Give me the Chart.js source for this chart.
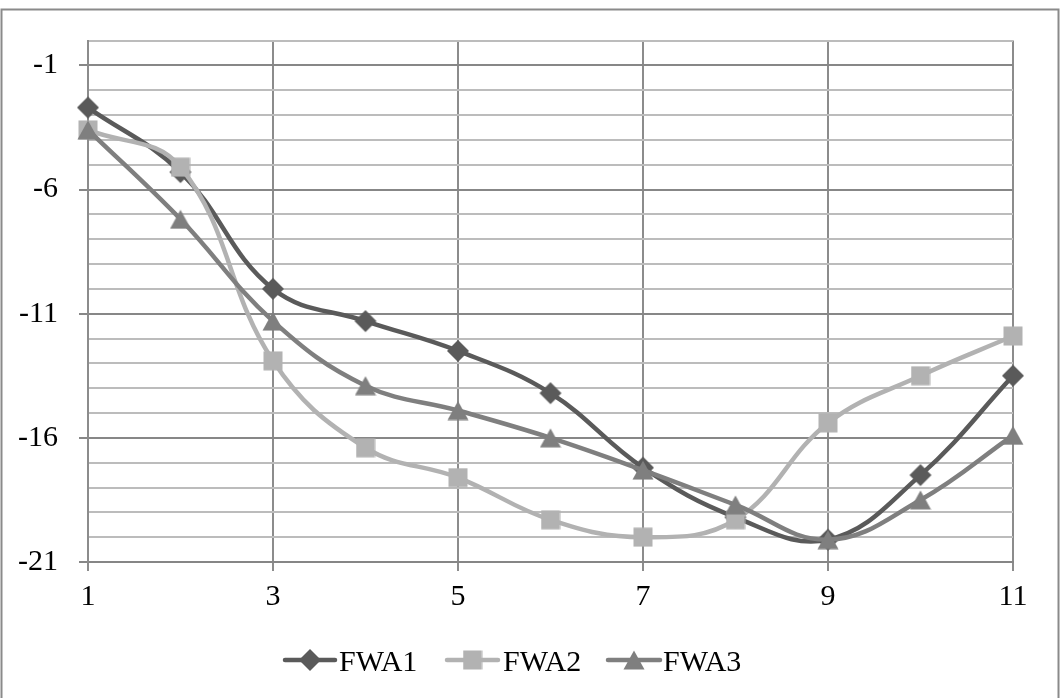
<!DOCTYPE html>
<html>
<head>
<meta charset="utf-8">
<title>FWA</title>
<script src="https://cdn.jsdelivr.net/npm/chart.js@4.4.1/dist/chart.umd.min.js"></script>
<style>
  html, body { margin: 0; padding: 0; background: #ffffff; }
  #wrap { width: 1062px; height: 698px; position: relative; }
  .fontwarm { position: absolute; left: -9999px; top: 0; font: 30px 'Liberation Serif'; }
</style>
</head>
<body>
<div id="wrap"><canvas id="chart" width="1062" height="698"></canvas></div>
<span class="fontwarm">FWA-0123456789</span>
<script>
// Sample positions along the x axis
const xValues = [1, 2, 3, 4, 5, 6, 7, 8, 9, 10, 11];

// Series values
const fwa1 = [-2.7, -5.3, -10.0, -11.3, -12.5, -14.2, -17.2, -19.2, -20.1, -17.5, -13.5];
const fwa2 = [-3.6, -5.1, -12.9, -16.4, -17.6, -19.3, -20.0, -19.3, -15.4, -13.5, -11.9];
const fwa3 = [-3.6, -7.2, -11.3, -13.9, -14.9, -16.0, -17.3, -18.7, -20.1, -18.5, -15.9];

const seriesNames = ['FWA1', 'FWA2', 'FWA3'];

// Axis ranges and labelled tick values
const yMin = -21, yMax = 0;
const yLabelled = [-21, -16, -11, -6, -1];
const xTicks = [1, 3, 5, 7, 9, 11];

const FONT = "'Liberation Serif', 'Times New Roman', Times, serif";
const colors = ['#5a5a5a', '#b2b2b2', '#7f7f7f'];

// Marker images (diamond, square, triangle) used both on the lines and in the legend
function makeMarker(shape, color) {
  const c = document.createElement('canvas');
  if (shape === 'diamond') { c.width = 24; c.height = 24; }
  else if (shape === 'square') { c.width = 20; c.height = 20; }
  else { c.width = 22; c.height = 20; }
  const g = c.getContext('2d');
  g.fillStyle = color;
  if (shape === 'diamond') {
    g.beginPath();
    g.moveTo(12, 1); g.lineTo(23, 12); g.lineTo(12, 23); g.lineTo(1, 12);
    g.closePath(); g.fill();
  } else if (shape === 'square') {
    g.fillRect(0.5, 0.5, 19, 19);
  } else {
    g.beginPath();
    g.moveTo(11, 0.5); g.lineTo(21.5, 19.5); g.lineTo(0.5, 19.5);
    g.closePath(); g.fill();
  }
  return c;
}
const markers = [
  makeMarker('diamond', colors[0]),
  makeMarker('square', colors[1]),
  makeMarker('triangle', colors[2])
];

function toPoints(values) {
  return values.map((v, i) => ({ x: xValues[i], y: v }));
}

const datasets = [fwa1, fwa2, fwa3].map((vals, i) => ({
  label: seriesNames[i],
  data: toPoints(vals),
  borderColor: colors[i],
  backgroundColor: colors[i],
  borderWidth: 4.5,
  tension: 0.4,
  pointStyle: markers[i],
  pointRadius: 10,
  pointHoverRadius: 10,
  pointBorderWidth: 0,
  clip: false,
  order: 3 - i
}));

// Outer frame of the chart
const framePlugin = {
  id: 'frame',
  beforeDraw(chart) {
    const ctx = chart.ctx;
    ctx.save();
    ctx.fillStyle = '#ffffff';
    ctx.fillRect(0, 0, chart.width, chart.height);
    ctx.strokeStyle = '#8a8a8a';
    ctx.lineWidth = 2;
    ctx.strokeRect(1.5, 9.5, 1057, 720);
    ctx.restore();
  }
};

// Legend drawn beneath the axis: line sample, marker, series name
const legendPlugin = {
  id: 'lineLegend',
  afterDraw(chart) {
    const ctx = chart.ctx;
    const items = [
      { x0: 285, x1: 335, tx: 339 },
      { x0: 447, x1: 498, tx: 503 },
      { x0: 608, x1: 660, tx: 663 }
    ];
    const cy = 660;
    ctx.save();
    items.forEach((it, i) => {
      ctx.strokeStyle = colors[i];
      ctx.lineWidth = 4.5;
      ctx.lineCap = 'round';
      ctx.beginPath();
      ctx.moveTo(it.x0, cy);
      ctx.lineTo(it.x1, cy);
      ctx.stroke();
      const m = markers[i];
      const mx = (it.x0 + it.x1) / 2;
      ctx.drawImage(m, mx - m.width / 2, cy - m.height / 2);
      ctx.fillStyle = '#000000';
      ctx.font = '30px ' + FONT;
      ctx.textAlign = 'left';
      ctx.textBaseline = 'alphabetic';
      ctx.fillText(seriesNames[i], it.tx, 671);
    });
    ctx.restore();
  }
};

const isMajorY = v => yLabelled.includes(Math.round(v));

function build() {
  new Chart(document.getElementById('chart'), {
    type: 'line',
    data: { datasets },
    options: {
      responsive: false,
      animation: false,
      devicePixelRatio: 1,
      layout: { padding: { left: 0, top: 40.5, right: 49, bottom: 0 } },
      plugins: {
        legend: { display: false },
        tooltip: { enabled: false }
      },
      scales: {
        x: {
          type: 'linear',
          min: 1,
          max: 11,
          afterBuildTicks(scale) {
            scale.ticks = xTicks.map(v => ({ value: v }));
          },
          afterFit(scale) { scale.height = 136; },
          ticks: {
            autoSkip: false,
            maxRotation: 0,
            padding: 8,
            color: '#000000',
            font: { family: FONT, size: 30 }
          },
          grid: {
            color: '#8c8c8c',
            lineWidth: 2,
            tickLength: 9,
            tickColor: '#8c8c8c'
          },
          border: { display: true, color: '#868686', width: 2 }
        },
        y: {
          type: 'linear',
          min: yMin,
          max: yMax,
          afterFit(scale) { scale.width = 88; },
          ticks: {
            stepSize: 1,
            autoSkip: false,
            padding: 21,
            color: '#000000',
            font: { family: FONT, size: 30 },
            callback: v => (isMajorY(v) ? String(Math.round(v)) : '')
          },
          grid: {
            color: ctx => (ctx.tick && isMajorY(ctx.tick.value) ? '#878787' : '#bcbcbc'),
            lineWidth: 2,
            tickLength: 9,
            tickColor: ctx => (ctx.tick && isMajorY(ctx.tick.value) ? '#878787' : 'rgba(0,0,0,0)')
          },
          border: { display: true, color: '#8c8c8c', width: 2 }
        }
      }
    },
    plugins: [framePlugin, legendPlugin]
  });
}

let built = false;
function start() { if (!built) { built = true; build(); } }
if (document.fonts && document.fonts.load) {
  document.fonts.load("30px 'Liberation Serif'").then(start, start);
  setTimeout(start, 1500);
} else {
  start();
}
</script>
</body>
</html>
